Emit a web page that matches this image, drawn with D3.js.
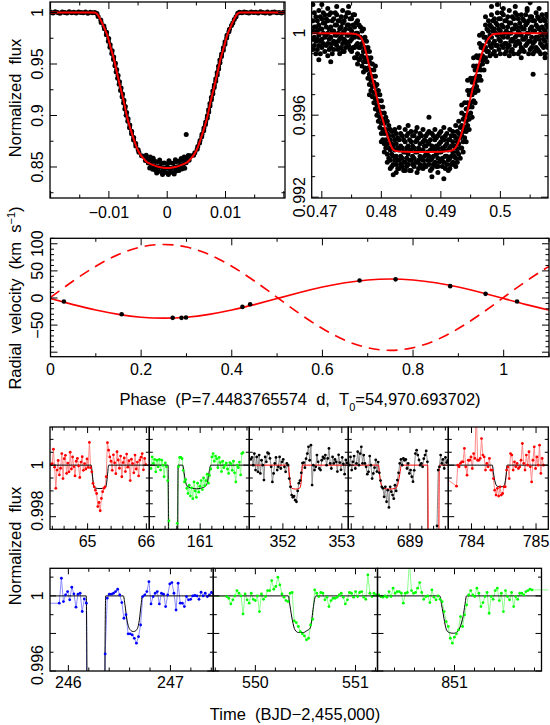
<!DOCTYPE html>
<html>
<head>
<meta charset="utf-8">
<script src="https://cdn.jsdelivr.net/npm/d3@7"></script>
<style>
  body { margin: 0; background: #fff; }
  svg text { font-family: "Liberation Sans", Arial, sans-serif; fill: #000; }
</style>
</head>
<body>
<svg id="fig" width="550" height="725"></svg>
<script>
// Kepler long cadence (days)
const CADENCE = 0.02043

// ---------- top left: primary eclipse, phase folded ----------
const priModel = [
  [-0.0201, 1], [-0.0125, 1], [-0.0120, 0.9985], [-0.0114, 0.9926], [-0.0108, 0.9850],
  [-0.0102, 0.9765], [-0.0097, 0.9660], [-0.0091, 0.9539], [-0.0086, 0.9410], [-0.0080, 0.9265],
  [-0.0074, 0.9125], [-0.0069, 0.8990], [-0.0063, 0.8870], [-0.0057, 0.8765], [-0.0052, 0.8685],
  [-0.0046, 0.8620], [-0.0040, 0.8578], [-0.0035, 0.8548], [-0.0027, 0.8525], [-0.0018, 0.8506],
  [-0.0009, 0.8495], [0, 0.8490], [0.0009, 0.8495], [0.0018, 0.8506], [0.0027, 0.8525],
  [0.0035, 0.8548], [0.0040, 0.8578], [0.0046, 0.8620], [0.0052, 0.8685], [0.0057, 0.8765],
  [0.0063, 0.8870], [0.0069, 0.8990], [0.0074, 0.9125], [0.0080, 0.9265], [0.0086, 0.9410],
  [0.0091, 0.9539], [0.0097, 0.9660], [0.0102, 0.9765], [0.0108, 0.9850], [0.0114, 0.9926],
  [0.0120, 0.9985], [0.0125, 1], [0.0202, 1]
]
const priPts = [
  [-0.0200, 1.0004], [-0.0196, 0.9996], [-0.0192, 1.0008], [-0.0188, 0.9999], [-0.0184, 0.9993],
  [-0.0180, 1.0005], [-0.0176, 1.0001], [-0.0172, 0.9995], [-0.0168, 1.0007], [-0.0164, 0.9998],
  [-0.0160, 1.0003], [-0.0156, 0.9994], [-0.0152, 1.0006], [-0.0148, 1.0000], [-0.0144, 0.9997],
  [-0.0140, 1.0004], [-0.0136, 0.9992], [-0.0132, 1.0002], [-0.0128, 0.9998], [-0.0124, 1.0001],
  [-0.01205, 0.9990], [-0.01185, 0.9962], [-0.01139, 0.9928], [-0.01133, 0.9904], [-0.01086, 0.9868],
  [-0.01077, 0.9843], [-0.01040, 0.9808], [-0.01044, 0.9784], [-0.01003, 0.9748], [-0.01010, 0.9722],
  [-0.00978, 0.9688], [-0.00982, 0.9663], [-0.00944, 0.9628], [-0.00951, 0.9602], [-0.00917, 0.9568],
  [-0.00921, 0.9543], [-0.00888, 0.9508], [-0.00897, 0.9483], [-0.00866, 0.9447], [-0.00875, 0.9422],
  [-0.00842, 0.9388], [-0.00850, 0.9362], [-0.00818, 0.9328], [-0.00824, 0.9303], [-0.00791, 0.9268],
  [-0.00800, 0.9242], [-0.00766, 0.9208], [-0.00774, 0.9183], [-0.00742, 0.9147], [-0.00748, 0.9122],
  [-0.00718, 0.9088], [-0.00727, 0.9063], [-0.00696, 0.9028], [-0.00704, 0.9002], [-0.00671, 0.8968],
  [-0.00676, 0.8943], [-0.00641, 0.8907], [-0.00646, 0.8882], [-0.00610, 0.8848], [-0.00612, 0.8823],
  [-0.00575, 0.8787], [-0.00578, 0.8762], [-0.00540, 0.8728], [-0.00538, 0.8703], [-0.00498, 0.8668],
  [-0.00486, 0.8643], [-0.00440, 0.8608],
  [-0.0040, 0.8605], [-0.0035, 0.8590], [-0.0030, 0.8575], [-0.0025, 0.8560], [-0.0020, 0.8553],
  [-0.0015, 0.8548], [-0.0010, 0.8538], [-0.0005, 0.8540], [0, 0.8532], [0.0005, 0.8541],
  [0.0010, 0.8537], [0.0015, 0.8550], [0.0020, 0.8555], [0.0025, 0.8566], [0.0030, 0.8578],
  [0.0035, 0.8592], [0.0040, 0.8608],
  [-0.00375, 0.8563], [-0.00325, 0.8540], [-0.00275, 0.8527], [-0.00225, 0.8512], [-0.00175, 0.8503],
  [-0.00125, 0.8500], [-0.00075, 0.8492], [-0.00025, 0.8487], [0.00025, 0.8491], [0.00075, 0.8489],
  [0.00125, 0.8498], [0.00175, 0.8502], [0.00225, 0.8516], [0.00275, 0.8524], [0.00325, 0.8542],
  [0.00375, 0.8566],
  [-0.0030, 0.8490], [-0.0025, 0.8478], [-0.0020, 0.8468], [-0.0015, 0.8460], [-0.0010, 0.8452],
  [-0.0005, 0.8449], [0, 0.8445], [0.0005, 0.8450], [0.0010, 0.8447], [0.0015, 0.8462],
  [0.0020, 0.8465], [0.0025, 0.8480], [0.0030, 0.8488],
  [-0.0008, 0.8428], [0.0002, 0.8426], [0.0012, 0.8432], [-0.0018, 0.8441], [-0.0036, 0.8615],
  [-0.0029, 0.8598], [-0.0024, 0.8585], [0.0024, 0.8582], [0.0029, 0.8596], [0.0036, 0.8612],
  [-0.0013, 0.8568], [0.0003, 0.8560], [0.0014, 0.8570], [0.00326, 0.8815],
  [0.00452, 0.8613], [0.00474, 0.8638], [0.00514, 0.8673], [0.00524, 0.8698], [0.00555, 0.8733],
  [0.00563, 0.8758], [0.00592, 0.8793], [0.00597, 0.8818], [0.00626, 0.8853], [0.00630, 0.8878],
  [0.00656, 0.8912], [0.00660, 0.8938], [0.00686, 0.8973], [0.00689, 0.8998], [0.00712, 0.9033],
  [0.00710, 0.9057], [0.00734, 0.9093], [0.00733, 0.9117], [0.00758, 0.9153], [0.00758, 0.9178],
  [0.00783, 0.9212], [0.00782, 0.9238], [0.00806, 0.9273], [0.00808, 0.9297], [0.00832, 0.9333],
  [0.00833, 0.9357], [0.00858, 0.9393], [0.00857, 0.9418], [0.00882, 0.9452], [0.00880, 0.9477],
  [0.00905, 0.9512], [0.00903, 0.9538], [0.00931, 0.9572], [0.00933, 0.9597], [0.00962, 0.9633],
  [0.00963, 0.9658], [0.00990, 0.9693], [0.00992, 0.9717], [0.01020, 0.9753], [0.01025, 0.9778],
  [0.01058, 0.9813], [0.01068, 0.9838], [0.01102, 0.9873], [0.01125, 0.9898], [0.01150, 0.9933],
  [0.01180, 0.9958], [0.01210, 0.9992],
  [0.0124, 1.0002], [0.0128, 0.9997], [0.0132, 1.0005], [0.0136, 1.0001], [0.0140, 0.9994],
  [0.0144, 1.0006], [0.0148, 0.9999], [0.0152, 1.0003], [0.0156, 0.9995], [0.0160, 1.0008],
  [0.0164, 1.0000], [0.0168, 0.9996], [0.0172, 1.0004], [0.0176, 0.9993], [0.0180, 1.0002],
  [0.0184, 1.0006], [0.0188, 0.9998], [0.0192, 1.0001], [0.0196, 0.9995], [0.0200, 1.0004]
]

// ---------- top right: secondary eclipse ----------
const secModel = [
  [0.4683, 1], [0.4758, 1], [0.4763, 0.9999], [0.4769, 0.99968], [0.4775, 0.9990], [0.4781, 0.99822],
  [0.4787, 0.99755], [0.4792, 0.99692], [0.4797, 0.9963], [0.4803, 0.99571], [0.4808, 0.9952],
  [0.4814, 0.99466], [0.4819, 0.9943], [0.4824, 0.9942], [0.4916, 0.9942], [0.4921, 0.9943],
  [0.4926, 0.99445], [0.4931, 0.99475], [0.4937, 0.9953], [0.4942, 0.99587], [0.4948, 0.9966],
  [0.4953, 0.99725], [0.4959, 0.99795], [0.4964, 0.99854], [0.4970, 0.9991], [0.4975, 0.99951],
  [0.4981, 0.9998], [0.4986, 0.99995], [0.4994, 1], [0.5080, 1]
]
// phase columns, each with the fluxes seen at that phase
const secCols = [
  [0.4685, [1.0014, 1.0006, 1.0001, 0.9997, 0.9992]], [0.4690, [1.0008, 1.0003, 0.9996, 0.9990]],
  [0.4695, [1.0011, 1.0004, 0.9999, 0.9994, 0.9987]], [0.4700, [1.0007, 1.0002, 0.9997, 0.9993, 1.0014]],
  [0.4705, [1.0009, 1.0005, 0.9998, 0.9991]], [0.4710, [1.0006, 1.0000, 0.9995, 0.9989, 1.0012]],
  [0.4715, [1.0010, 1.0003, 0.9998, 0.9993, 0.9986]], [0.4720, [1.0007, 1.0001, 0.9996, 0.9992]],
  [0.4725, [1.0009, 1.0004, 0.9999, 0.9994, 1.0013]], [0.4730, [1.0006, 1.0002, 0.9997, 0.9990]],
  [0.4735, [1.0011, 1.0005, 1.0000, 0.9995, 0.9991]], [0.4740, [1.0008, 1.0002, 0.9996, 0.9993]],
  [0.4745, [1.0010, 1.0004, 0.9999, 0.9994, 1.0013]], [0.4750, [1.0007, 1.0001, 0.9997, 0.9991]],
  [0.4755, [1.0009, 1.0003, 0.9998, 0.9993, 0.9988]], [0.4760, [1.0006, 1.0000, 0.9995, 0.9990, 0.9985]],
  [0.4765, [1.0003, 0.9998, 0.9993, 0.9988]], [0.4770, [1.0002, 0.9997, 0.9991, 0.9986, 0.9981]],
  [0.4775, [0.9996, 0.9991, 0.9986, 0.9982]], [0.4780, [0.9991, 0.9986, 0.9980, 0.9975, 0.9970]],
  [0.4785, [0.9985, 0.9979, 0.9974, 0.9969]], [0.4790, [0.9979, 0.9974, 0.9968, 0.9963, 0.9984]],
  [0.4795, [0.9972, 0.9967, 0.9962, 0.9957]], [0.4800, [0.9967, 0.9961, 0.9956, 0.9951, 0.9947]],
  [0.4805, [0.9961, 0.9956, 0.9951, 0.9946, 0.9942]], [0.4810, [0.9957, 0.9951, 0.9946, 0.9941, 0.9937]],
  [0.4815, [0.9953, 0.9948, 0.9943, 0.9938, 0.9934]], [0.4820, [0.9950, 0.9945, 0.9940, 0.9936, 0.9931]],
  [0.4825, [0.9951, 0.9946, 0.9940, 0.9936, 0.9932]], [0.4830, [0.9954, 0.9948, 0.9943, 0.9938, 0.9934]],
  [0.4835, [0.9950, 0.9944, 0.9939, 0.9935]], [0.4840, [0.9953, 0.9947, 0.9942, 0.9937, 0.9933]],
  [0.4845, [0.9951, 0.9945, 0.9941, 0.9936, 0.9955]], [0.4850, [0.9952, 0.9947, 0.9943, 0.9938, 0.9933]],
  [0.4855, [0.9950, 0.9944, 0.9939, 0.9935]], [0.4860, [0.9954, 0.9948, 0.9942, 0.9937, 0.9932]],
  [0.4865, [0.9951, 0.9946, 0.9940, 0.9936]], [0.4870, [0.9953, 0.9947, 0.9943, 0.9938, 0.9934]],
  [0.4875, [0.9950, 0.9945, 0.9941, 0.9935]], [0.4880, [0.9959, 0.9952, 0.9946, 0.9940, 0.9936]],
  [0.4885, [0.9951, 0.9945, 0.9939, 0.9934, 0.9930]], [0.4890, [0.9953, 0.9948, 0.9943, 0.9937]],
  [0.4895, [0.9950, 0.9944, 0.9939, 0.9935, 0.9932]], [0.4900, [0.9952, 0.9947, 0.9942, 0.9938]],
  [0.4905, [0.9954, 0.9948, 0.9943, 0.9937, 0.9929]], [0.4910, [0.9951, 0.9946, 0.9940, 0.9936]],
  [0.4915, [0.9953, 0.9948, 0.9944, 0.9939, 0.9934]], [0.4920, [0.9952, 0.9947, 0.9942, 0.9937]],
  [0.4925, [0.9955, 0.9949, 0.9944, 0.9939, 0.9935]], [0.4930, [0.9957, 0.9951, 0.9946, 0.9941]],
  [0.4935, [0.9961, 0.9955, 0.9950, 0.9944, 0.9965]], [0.4940, [0.9966, 0.9960, 0.9954, 0.9949]],
  [0.4945, [0.9972, 0.9966, 0.9960, 0.9955, 0.9977]], [0.4950, [0.9978, 0.9972, 0.9966, 0.9961]],
  [0.4955, [0.9984, 0.9978, 0.9973, 0.9967, 0.9988]], [0.4960, [0.9989, 0.9984, 0.9979, 0.9974]],
  [0.4965, [0.9995, 0.9989, 0.9984, 0.9979, 0.9999]], [0.4970, [1.0000, 0.9994, 0.9989, 0.9985]],
  [0.4975, [1.0004, 0.9998, 0.9993, 0.9988, 1.0008]], [0.4980, [1.0006, 1.0001, 0.9996, 0.9991]],
  [0.4985, [1.0009, 1.0003, 0.9998, 0.9993, 1.0013]], [0.4990, [1.0007, 1.0002, 0.9996, 0.9991]],
  [0.4995, [1.0010, 1.0004, 0.9999, 0.9994, 1.0014]], [0.5000, [1.0007, 1.0001, 0.9996, 0.9990]],
  [0.5005, [1.0009, 1.0003, 0.9998, 0.9993, 1.0012]], [0.5010, [1.0006, 1.0001, 0.9995, 0.9991]],
  [0.5015, [1.0011, 1.0005, 1.0000, 0.9994, 0.9989]], [0.5020, [1.0008, 1.0002, 0.9997, 0.9992]],
  [0.5025, [1.0010, 1.0004, 0.9998, 0.9994, 1.0013]], [0.5030, [1.0007, 1.0001, 0.9996, 0.9990]],
  [0.5035, [1.0009, 1.0003, 0.9999, 0.9993, 0.9988]], [0.5040, [1.0006, 1.0002, 0.9997, 0.9991]],
  [0.5045, [1.0011, 1.0005, 1.0000, 0.9995, 1.0012]], [0.5050, [1.0015, 1.0008, 1.0002, 0.9996, 0.9992]],
  [0.5055, [1.0006, 1.0001, 0.9995, 0.9990, 0.9980]], [0.5060, [1.0010, 1.0004, 0.9998, 0.9993]],
  [0.5065, [1.0007, 1.0002, 0.9997, 0.9991, 1.0012]], [0.5070, [1.0009, 1.0003, 0.9999, 0.9994]],
  [0.5075, [1.0006, 1.0001, 0.9996, 0.9990, 0.9988]], [0.5080, [1.0008, 1.0003, 0.9998, 0.9993]]
]
// the in-between columns of the same cloud
const secColsB = [
  [0.46875, [1.0010, 1.0003, 0.9998, 0.9994]], [0.46925, [1.0006, 1.0001, 0.9997, 0.9992]],
  [0.46975, [1.0008, 1.0002, 0.9996, 0.9990]], [0.47025, [1.0005, 1.0000, 0.9995, 1.0010]],
  [0.47075, [1.0007, 1.0003, 0.9999, 0.9994]], [0.47125, [1.0009, 1.0002, 0.9997, 0.9992]],
  [0.47175, [1.0006, 1.0001, 0.9995, 0.9990]], [0.47225, [1.0010, 1.0004, 0.9999, 0.9995]],
  [0.47275, [1.0006, 1.0000, 0.9996, 0.9992]], [0.47325, [1.0008, 1.0003, 0.9998, 0.9993]],
  [0.47375, [1.0006, 1.0001, 0.9997, 0.9991]], [0.47425, [1.0010, 1.0004, 0.9999, 0.9995]],
  [0.47475, [1.0007, 1.0002, 0.9996, 0.9992]], [0.47525, [1.0009, 1.0004, 0.9999, 0.9993]],
  [0.47575, [1.0005, 1.0000, 0.9994, 0.9988]], [0.47625, [1.0004, 0.9998, 0.9993, 0.9987]],
  [0.47675, [1.0001, 0.9995, 0.9989, 0.9984]], [0.47725, [0.9998, 0.9993, 0.9988, 0.9983]],
  [0.47775, [0.9993, 0.9988, 0.9983, 0.9978]], [0.47825, [0.9988, 0.9982, 0.9977, 0.9972]],
  [0.47875, [0.9982, 0.9976, 0.9971, 0.9966]], [0.47925, [0.9975, 0.9970, 0.9965, 0.9960]],
  [0.47975, [0.9970, 0.9964, 0.9959, 0.9954]], [0.48025, [0.9964, 0.9958, 0.9953, 0.9948]],
  [0.48075, [0.9959, 0.9953, 0.9948, 0.9944]], [0.48125, [0.9955, 0.9950, 0.9944, 0.9939]],
  [0.48175, [0.9952, 0.9946, 0.9941, 0.9935]], [0.48225, [0.9953, 0.9948, 0.9943, 0.9938]],
  [0.48275, [0.9949, 0.9944, 0.9938, 0.9934]], [0.48325, [0.9951, 0.9945, 0.9940, 0.9936]],
  [0.48375, [0.9948, 0.9942, 0.9937, 0.9933]], [0.48425, [0.9950, 0.9944, 0.9939, 0.9935]],
  [0.48475, [0.9948, 0.9943, 0.9938, 0.9933]], [0.48525, [0.9950, 0.9945, 0.9940, 0.9936]],
  [0.48575, [0.9952, 0.9947, 0.9942, 0.9937]], [0.48625, [0.9949, 0.9944, 0.9938, 0.9934]],
  [0.48675, [0.9950, 0.9943, 0.9939, 0.9935]], [0.48725, [0.9948, 0.9945, 0.9940, 0.9936]],
  [0.48775, [0.9951, 0.9947, 0.9942, 0.9938]], [0.48825, [0.9948, 0.9943, 0.9938, 0.9933]],
  [0.48875, [0.9950, 0.9944, 0.9940, 0.9936]], [0.48925, [0.9949, 0.9945, 0.9941, 0.9935]],
  [0.48975, [0.9951, 0.9946, 0.9942, 0.9937]], [0.49025, [0.9949, 0.9944, 0.9939, 0.9935]],
  [0.49075, [0.9950, 0.9945, 0.9940, 0.9934]], [0.49125, [0.9948, 0.9943, 0.9938, 0.9933]],
  [0.49175, [0.9950, 0.9945, 0.9940, 0.9936]], [0.49225, [0.9950, 0.9945, 0.9940, 0.9936]],
  [0.49275, [0.9952, 0.9947, 0.9942, 0.9937]], [0.49325, [0.9954, 0.9949, 0.9944, 0.9939]],
  [0.49375, [0.9958, 0.9952, 0.9947, 0.9942]], [0.49425, [0.9963, 0.9957, 0.9952, 0.9947]],
  [0.49475, [0.9970, 0.9964, 0.9958, 0.9953]], [0.49525, [0.9976, 0.9970, 0.9964, 0.9959]],
  [0.49575, [0.9982, 0.9976, 0.9971, 0.9966]], [0.49625, [0.9988, 0.9982, 0.9977, 0.9972]],
  [0.49675, [0.9993, 0.9987, 0.9982, 0.9977]], [0.49725, [0.9998, 0.9992, 0.9987, 0.9982]],
  [0.49775, [1.0002, 0.9996, 0.9991, 0.9986]], [0.49825, [1.0004, 0.9999, 0.9994, 0.9989]],
  [0.49875, [1.0006, 1.0001, 0.9995, 0.9990]], [0.49925, [1.0005, 1.0000, 0.9994, 0.9989]],
  [0.49975, [1.0007, 1.0002, 0.9997, 0.9992]], [0.50025, [1.0010, 1.0004, 0.9999, 0.9994]],
  [0.50075, [1.0006, 1.0000, 0.9995, 0.9990]], [0.50125, [1.0008, 1.0003, 0.9998, 0.9993]],
  [0.50175, [1.0005, 1.0000, 0.9996, 0.9991]], [0.50225, [1.0007, 1.0002, 0.9996, 0.9990]],
  [0.50275, [1.0009, 1.0003, 0.9999, 0.9995]], [0.50325, [1.0005, 1.0000, 0.9995, 0.9991]],
  [0.50375, [1.0007, 1.0002, 0.9997, 0.9992]], [0.50425, [1.0009, 1.0004, 0.9998, 0.9994]],
  [0.50475, [1.0006, 1.0000, 0.9996, 0.9990]], [0.50525, [1.0008, 1.0003, 0.9998, 0.9993]],
  [0.50575, [1.0006, 1.0001, 0.9996, 0.9991]], [0.50625, [1.0008, 1.0003, 0.9998, 0.9992]],
  [0.50675, [1.0006, 1.0000, 0.9995, 0.9990]], [0.50725, [1.0007, 1.0002, 0.9997, 0.9993]],
  [0.50775, [1.0009, 1.0004, 0.9999, 0.9994]]
]

// ---------- radial velocities (km/s) ----------
const rvModelPhase = [0, 0.05, 0.1, 0.15, 0.2, 0.25, 0.3, 0.35, 0.4, 0.45, 0.5, 0.55, 0.6, 0.65, 0.7, 0.75, 0.8, 0.85, 0.9, 0.95, 1, 1.05, 1.1]
const rvPrimary   = [-1.1, -12.2, -22.3, -30.2, -35.4, -37.1, -35.4, -30.2, -22.3, -12.2, -1.1, 10, 20.1, 28.1, 33.2, 34.9, 33.2, 28.1, 20.1, 10, -1.1, -12.2, -22.3]
const rvSecondary = [1.1, 31.3, 58.5, 80.2, 94, 98.8, 94, 80.2, 58.5, 31.3, 1.1, -29.2, -56.3, -78, -91.8, -96.6, -91.8, -78, -56.3, -29.2, 1.1, 31.3, 58.5]
const rvPhase = [0.0295, 0.157, 0.2696, 0.289, 0.299, 0.4235, 0.4406, 0.682, 0.7615, 0.882, 0.960, 1.0295]
const rvVel   = [-6.6, -30, -36.6, -36.6, -36, -16.4, -11.5, 32.2, 34.4, 21.8, 7.6, -6.6]

// ---------- single transits (flux - 1, in ppm) ----------
const p1Start = 64.377
const p1Ppm = [30, 60, 620, -80, -900, -190, 180, -380, -120, 450,
  -520, 250, 380, -320, 80, -260, 500, -150, 320, -60,
  -420, 150, 260, -30, -480, 120, 330, -200, 60, -150,
  240, -90, 880, -100,
  -260, -710, -840, -970, -1100, -1610, -1450, -1770, -1290, -1030, -900, -840, -450, 870,
  580, 320, 150, -200, 400, 90, -330, 520, 200, -120, 350, -450,
  100, 280, -250, 430, -80, 170, -600, 230, 60, -300,
  390, -150, 120, -420, 200, 310, 450, -180, 260, 20]
const p1Model = [[64.36, 0], [65.061, 0], [65.08, -350], [65.10, -750], [65.117, -880], [65.21, -910],
  [65.30, -880], [65.32, -750], [65.34, -350], [65.357, 0], [66.05, 0]]

const p2Start = 160.159
const p2Ppm = [-130, 320, 65, 220, -260, 190, -65, 220, -190, 190,
  0, -450, 90, -65, -600, -2160,
  -30000, -110000, -150000, -150000, -90000, -20000, -2260,
  -60, 300, 300, 250, -200, -650, -560, -900,
  -1100, -780, -1200, -880, -1300, -650, -1000, -1250, -700, -1050,
  -820, -600, -950, -500, -800, -600, -350, -700, -400, -150,
  320, 450, 150, 350, 250, -100, 300, 100, -250, 150,
  -100, 0, 80, -150, -320, 100, 50, -200, 150, -300,
  -650, 0, -100, 120, -380, 450, 480]
const p2Model = [[160.13, 0], [160.452, 0], [160.458, -4000], [160.47, -30000], [160.49, -90000],
  [160.537, -150000], [160.585, -90000], [160.605, -30000], [160.616, -4000], [160.622, 0],
  [160.70, 0], [160.725, -300], [160.75, -650], [160.775, -800], [160.85, -890], [160.935, -920],
  [161.02, -890], [161.099, -800], [161.125, -650], [161.15, -300], [161.181, 0], [161.84, 0]]

const p3Start = 351.454
const p3Ppm = [220, 300, 0, 450, -190, 320, -260, 390, -320, 190,
  0, -580, 320, 130, 480, 450, 260, -65, -650, -320,
  65, 300, -190, -65, 320, -130, 130, 220, -65, -260, 65, 0,
  -520, -840, -1160, -1250, -1200, -1360, -1420, -1000,
  -700, -600, -300, 80, 100, -100, 250,
  450, 710, 190, 775, -775, 0, -190, -65, 390, 130,
  -130, -190, 190, 320, 260, 390, 0, 260, 650, 65,
  -130, 320, 65, 220, 130, -250, 400, 100, -180, 300, 50, -350, 200, 80]
const p3Model = [[351.43, 0], [352.094, 0], [352.11, -350], [352.13, -750], [352.152, -900], [352.217, -930],
  [352.282, -900], [352.305, -750], [352.32, -350], [352.333, 0], [353.11, 0]]

const p4Start = 687.967
const p4Ppm = [0, 320, -190, 130, 350, -130, 65, 520, 0, 450, 710, 65, 390, 65, -65, -350, -260, 350, 0, -520, -320, -100, 200, -250, 120,
  -300, -600, -840, -900, -1230, -840, -1420, -970, -1640, -840, -1030, -1160, -1300, -780, -1000, -580, -300, 65,
  220, 0, 260, 190, 220, -130, 65, -320, -190, -450, -640, -200, 450, 580, 390, 200, 0, 65, -65, 250, 390, 550,
  130, -30000, -100000, -150000, -150000, -150000, -120000, -40000, -2360, -190,
  -65, 390, 65, 220, -130, 300, 100, 180]
const p4Model = [[687.95, 0], [688.463, 0], [688.48, -350], [688.51, -750], [688.549, -900], [688.65, -930],
  [688.75, -900], [688.79, -750], [688.825, -350], [688.852, 0], [689.30, 0], [689.31, -4000],
  [689.33, -50000], [689.399, -150000], [689.468, -50000], [689.488, -4000], [689.498, 0], [689.65, 0]]

const p5Lead = [783.514, -350]
const p5Start = 783.767
const p5Ppm = [-815, 0, -65, 65, 130, 130, 650, -65, -390, 190,
  190, 320, -130, 450, 260, 2300, 190, 190, 260, 1030,
  390, 320, -190, 65, -65, 260, -190, -190, -520, -970,
  -1160, -900, -1200, -840, -1160, -1100, -840, -840, -190, -65,
  -520, 450, 390, -190, 130, -65, 65, -130, -65, 190,
  840, 65, -190, 390, 0, 520, -65, -650, 190, 710,
  -130, 320, 0, 775, -320, 260, 0]
const p5Model = [[783.64, 0], [784.323, 0], [784.34, -300], [784.36, -600], [784.40, -820], [784.45, -840],
  [784.50, -820], [784.525, -600], [784.54, -300], [784.551, 0], [785.19, 0]]

const q1Lead = [245.70, -390]
const q1Start = 245.911
const q1Ppm = [-390, 940, -300, 50, 230, -210, 460, 110, -600, 90, 140, -830, -160, -390,
  -60000, -130000, -150000, -152000, -152000, -150000, -130000, -50000, -3090,
  -120, 90, 90, 140, 230, 355, 50, -355, -1190, -1000, -2020, -2020, -2080, -2260, -2520, -2170, -1550, -35, 50,
  230, 760, -430, -35, 140, 230, -430, 140, 90, -570, 50, 640, 710, 140, -750, 675, -390,
  -390, -570, -35, -210, -180, 0, 20, 0, -180, 195, 0, 140, -35, 50, 180, 100]
const q1Model = [[245.82, 0], [246.175, 0], [246.182, -4000], [246.20, -50000], [246.27, -150000],
  [246.34, -50000], [246.358, -4000], [246.366, 0], [246.539, 0], [246.555, -500], [246.575, -1300],
  [246.604, -1800], [246.637, -1900], [246.67, -1800], [246.695, -1300], [246.712, -500], [246.725, 0], [247.42, 0]]

const q2Lead = [549.50, 0]
const q2Start = 549.714
const q2Ppm = [-35, -125, -430, -210, 0, 285, 140, 0, -960, 105,
  -210, -390, 140, -180, -250, 0, -835, 105, -180, -35,
  285, 285, 815, 355, 500, 995, 585, 105, -70, -250,
  -300, 140, 180, -1330,
  -1420, -1630, -1900, -2020, -2130, -2340, -2255, -1545, -1245, 320, 140,
  -35, 180, 140, -210, -70, -570, -250, -125, -125, -70, 50, 140, -70, -430, -210,
  180, 140, -70, 230, -35, 180, 230, -70, -180, 1120, 140, -35, 140, 50, 100]
const q2Model = [[549.58, 0], [550.33, 0], [550.345, -500], [550.37, -1300], [550.395, -1800], [550.43, -1950],
  [550.48, -1950], [550.515, -1850], [550.547, -1720], [550.565, -1200], [550.58, -570], [550.604, 0], [551.22, 0]]

const q3Start = 850.243
const q3Ppm = [50, -35, -70, 0, -70, 230, -35, 410, 140, 230,
  230, 140, -390, 140, 180, 1800, 285, 140, 180, 410,
  710, 180, -180, -35, 0, -355, 320, -70, -210, 0,
  -180, -300, -835, -1370, -1630, -2255,
  -2520, -2200, -2020, -1810, -1100, -1630, -1010,
  -480, 50, 285, 50, -35, 410, 140, -570, -355, -35,
  180, -925, -35, -180, 285, 410, -250, 140, -835, 285,
  -35, -210, 180, -570, -35, -180, 140, 140, 50, 230, 285, 355, 320]
const q3Trail = [852.20, 320]
const q3Model = [[850.23, 0], [850.853, 0], [850.87, -450], [850.886, -920], [850.905, -1500], [850.92, -1810],
  [850.95, -1960], [850.99, -1990], [851.03, -1900], [851.06, -1600], [851.086, -1100], [851.105, -450],
  [851.12, 0], [851.87, 0]]

// ---------------------------------------------------------------
const svg = d3.select("#fig")
let nClip = 0

function plotArea(x0, x1, y0, y1, extraRight) {
  const id = "clip" + nClip++
  svg.append("clipPath").attr("id", id).append("rect")
    .attr("x", x0).attr("y", y0)
    .attr("width", x1 - x0 + (extraRight || 0)).attr("height", y1 - y0)
  return svg.append("g").attr("clip-path", `url(#${id})`)
}

function tickValues(domain, step) {
  const lo = d3.min(domain), hi = d3.max(domain), out = []
  for (let k = Math.ceil(lo / step - 1e-9); k * step <= hi + 1e-9; k++) out.push(k * step)
  return out
}
const isMajor = (v, step) => Math.abs(v / step - Math.round(v / step)) < 1e-6

function drawFrame(xs, ys, t) {
  const [x0, x1] = xs.range(), y1 = ys.range()[0], y0 = ys.range()[1]
  const maj = t.maj || 7, min = t.min || 3.5
  const g = svg.append("g").attr("stroke", "#000").attr("stroke-width", 1)
  tickValues(xs.domain(), t.xMinor).forEach(v => {
    const L = isMajor(v, t.xMajor) ? maj : min, x = xs(v)
    g.append("line").attr("x1", x).attr("x2", x).attr("y1", y1).attr("y2", y1 - L)
    g.append("line").attr("x1", x).attr("x2", x).attr("y1", y0).attr("y2", y0 + L)
  })
  tickValues(ys.domain(), t.yMinor).forEach(v => {
    const L = isMajor(v, t.yMajor) ? maj : min, y = ys(v)
    g.append("line").attr("x1", x0).attr("x2", x0 + L).attr("y1", y).attr("y2", y)
    g.append("line").attr("x1", x1).attr("x2", x1 - L).attr("y1", y).attr("y2", y)
  })
  g.append("rect").attr("x", x0).attr("y", y0).attr("width", x1 - x0).attr("height", y1 - y0)
    .attr("fill", "none").attr("stroke-width", 1.3)
}

function xLabels(xs, baseline, list) {
  list.forEach(([v, s]) => svg.append("text").attr("x", xs(v)).attr("y", baseline)
    .attr("text-anchor", "middle").attr("font-size", 16).text(s))
}
function yLabels(ys, xBase, list) {
  list.forEach(([v, s, dy, anchor]) => svg.append("text")
    .attr("transform", `translate(${xBase},${ys(v) + (dy || 0)}) rotate(-90)`)
    .attr("text-anchor", anchor || "middle").attr("font-size", 16).text(s))
}

// ---------- top left ----------
const tlX = d3.scaleLinear().domain([-0.0201, 0.0202]).range([50, 285])
const tlY = d3.scaleLinear().domain([0.8199, 1.0102]).range([198, 2])
const tl = plotArea(50, 285, 2, 198)
tl.selectAll(null).data(priPts).join("circle")
  .attr("cx", d => tlX(d[0])).attr("cy", d => tlY(d[1])).attr("r", 2.5).attr("fill", "#000")
tl.append("path").datum(priModel)
  .attr("d", d3.line().x(d => tlX(d[0])).y(d => tlY(d[1])).curve(d3.curveMonotoneX))
  .attr("fill", "none").attr("stroke", "#ff0000").attr("stroke-width", 2)
drawFrame(tlX, tlY, {xMinor: 0.005, xMajor: 0.01, yMinor: 0.025, yMajor: 0.05})
xLabels(tlX, 218, [[-0.01, "−0.01"], [0, "0"], [0.01, "0.01"]])
yLabels(tlY, 43, [[1, "1"], [0.95, "0.95"], [0.9, "0.9"], [0.85, "0.85"]])

// ---------- top right ----------
const trX = d3.scaleLinear().domain([0.4683, 0.5080]).range([311.7, 548])
const trY = d3.scaleLinear().domain([0.99196, 1.00152]).range([198, 2])
const tr = plotArea(311.7, 548, 2, 198)
const secPts = secCols.concat(secColsB).flatMap(([ph, fl]) => fl.map(f => [ph, f]))
tr.selectAll(null).data(secPts).join("circle")
  .attr("cx", d => trX(d[0])).attr("cy", d => trY(d[1])).attr("r", 2.5).attr("fill", "#000")
tr.append("path").datum(secModel)
  .attr("d", d3.line().x(d => trX(d[0])).y(d => trY(d[1])).curve(d3.curveBasis))
  .attr("fill", "none").attr("stroke", "#ff0000").attr("stroke-width", 2)
drawFrame(trX, trY, {xMinor: 0.005, xMajor: 0.01, yMinor: 0.001, yMajor: 0.004})
xLabels(trX, 217, [[0.47, "0.47"], [0.48, "0.48"], [0.49, "0.49"], [0.5, "0.5"]])
yLabels(trY, 305, [[1, "1"], [0.996, "0.996"], [0.992, "0.992"]])

// ---------- radial velocity ----------
const rvX = d3.scaleLinear().domain([0, 1.1]).range([50.5, 549])
const rvY = d3.scaleLinear().domain([-108.3, 110.1]).range([356.7, 238.3])
const rv = plotArea(50.5, 549, 238.3, 356.7)
const rvLine = d3.line().x(d => rvX(d[0])).y(d => rvY(d[1])).curve(d3.curveNatural)
rv.append("path").datum(rvModelPhase.map((p, i) => [p, rvSecondary[i]])).attr("d", rvLine)
  .attr("fill", "none").attr("stroke", "#ff0000").attr("stroke-width", 1.6).attr("stroke-dasharray", "11,7")
rv.append("path").datum(rvModelPhase.map((p, i) => [p, rvPrimary[i]])).attr("d", rvLine)
  .attr("fill", "none").attr("stroke", "#ff0000").attr("stroke-width", 1.6)
rv.selectAll(null).data(rvPhase.map((p, i) => [p, rvVel[i]])).join("circle")
  .attr("cx", d => rvX(d[0])).attr("cy", d => rvY(d[1])).attr("r", 2.3).attr("fill", "#000")
drawFrame(rvX, rvY, {xMinor: 0.1, xMajor: 0.2, yMinor: 10, yMajor: 50})
xLabels(rvX, 375, [[0, "0"], [0.2, "0.2"], [0.4, "0.4"], [0.6, "0.6"], [0.8, "0.8"], [1, "1"]])
yLabels(rvY, 43, [[100, "100"], [50, "50"], [0, "0"], [-50, "−50"]])

// ---------- single transits ----------
const palette = {
  red:   {dot: "#ff0000", line: "#ff8a8a"},
  green: {dot: "#00ff00", line: "#8cff8c"},
  black: {dot: "#000000", line: "#8c8c8c"},
  blue:  {dot: "#0000ff", line: "#8c8cff"}
}
const ysRow1 = d3.scaleLinear().domain([-2490, 1480]).range([529.3, 427])
const ysRow2 = d3.scaleLinear().domain([-4000, 1470]).range([671, 568.3])

const transits = [
  {ys: ysRow1, x0: 50, x1: 149.3, dom: [64.36, 66.05], start: p1Start, ppm: p1Ppm, model: p1Model, col: "red", mcol: "#000", labels: [65, 66]},
  {ys: ysRow1, x0: 149.3, x1: 249.3, dom: [160.13, 161.84], start: p2Start, ppm: p2Ppm, model: p2Model, col: "green", mcol: "#000", labels: [161]},
  {ys: ysRow1, x0: 249.3, x1: 348.3, dom: [351.43, 353.11], start: p3Start, ppm: p3Ppm, model: p3Model, col: "black", mcol: "#ff0000", labels: [352, 353]},
  {ys: ysRow1, x0: 348.3, x1: 448.3, dom: [687.95, 689.65], start: p4Start, ppm: p4Ppm, model: p4Model, col: "black", mcol: "#ff0000", labels: [689]},
  {ys: ysRow1, x0: 448.3, x1: 548.3, dom: [783.64, 785.19], start: p5Start, ppm: p5Ppm, model: p5Model, lead: p5Lead, col: "red", mcol: "#000", labels: [784, 785]},
  {ys: ysRow2, x0: 50, x1: 213.3, dom: [245.82, 247.42], start: q1Start, ppm: q1Ppm, model: q1Model, lead: q1Lead, col: "blue", mcol: "#000", labels: [246, 247]},
  {ys: ysRow2, x0: 213.3, x1: 377.5, dom: [549.58, 551.22], start: q2Start, ppm: q2Ppm, model: q2Model, lead: q2Lead, col: "green", mcol: "#000", labels: [550, 551]},
  {ys: ysRow2, x0: 377.5, x1: 541.5, dom: [850.23, 851.87], start: q3Start, ppm: q3Ppm, model: q3Model, trail: q3Trail, clipExtra: 7, col: "green", mcol: "#000", labels: [851]}
]

transits.forEach(p => {
  const ys = p.ys
  const xs = d3.scaleLinear().domain(p.dom).range([p.x0, p.x1])
  const area = plotArea(p.x0, p.x1, ys.range()[1], ys.range()[0], p.clipExtra)
  const pts = p.ppm.map((v, i) => [p.start + i * CADENCE, v])
  const linePts = [...(p.lead ? [p.lead] : []), ...pts, ...(p.trail ? [p.trail] : [])]
  const c = palette[p.col]
  area.append("path").datum(linePts)
    .attr("d", d3.line().x(d => xs(d[0])).y(d => ys(d[1])))
    .attr("fill", "none").attr("stroke", c.line).attr("stroke-width", 1)
  area.append("path").datum(p.model)
    .attr("d", d3.line().x(d => xs(d[0])).y(d => ys(d[1])).curve(d3.curveMonotoneX))
    .attr("fill", "none").attr("stroke", p.mcol).attr("stroke-width", 1)
  area.selectAll(null).data(pts).join("circle")
    .attr("cx", d => xs(d[0])).attr("cy", d => ys(d[1])).attr("r", 1.4).attr("fill", c.dot)
  const row1 = ys === ysRow1
  drawFrame(xs, ys, {xMinor: 0.2, xMajor: 1, yMinor: row1 ? 500 : 1000, yMajor: 2000, maj: 6, min: 3.5})
  xLabels(xs, row1 ? 546.5 : 687.5, p.labels.map(v => [v, String(v)]))
})
yLabels(ysRow1, 43, [[0, "1"], [-2000, "0.998", -6]])
yLabels(ysRow2, 43, [[0, "1"], [-4000, "0.996", -6]])

// ---------- axis titles ----------
function yTitle(y, build) {
  const t = svg.append("text").attr("transform", `translate(21,${y}) rotate(-90)`)
    .attr("text-anchor", "middle").attr("font-size", 16.5)
  build(t)
}
yTitle(98, t => t.text("Normalized\u00a0\u00a0flux"))
yTitle(546, t => t.text("Normalized\u00a0\u00a0flux"))
yTitle(298, t => {
  t.append("tspan").text("Radial\u00a0\u00a0velocity\u00a0\u00a0(km\u00a0\u00a0s")
  t.append("tspan").attr("baseline-shift", "super").attr("font-size", 11).text("−1")
  t.append("tspan").text(")")
})
const phaseTitle = svg.append("text").attr("x", 300).attr("y", 405)
  .attr("text-anchor", "middle").attr("font-size", 16.5)
phaseTitle.append("tspan").text("Phase\u00a0\u00a0(P=7.4483765574\u00a0\u00a0d,\u00a0\u00a0T")
phaseTitle.append("tspan").attr("baseline-shift", "sub").attr("font-size", 11).text("0")
phaseTitle.append("tspan").text("=54,970.693702)")
svg.append("text").attr("x", 295).attr("y", 720).attr("text-anchor", "middle").attr("font-size", 16.5)
  .text("Time\u00a0\u00a0(BJD−2,455,000)")
</script>
</body>
</html>
